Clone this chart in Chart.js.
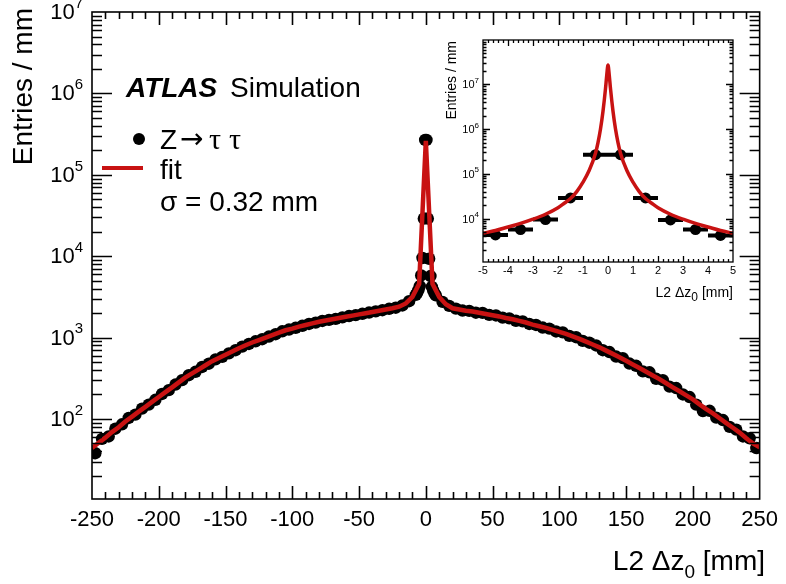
<!DOCTYPE html>
<html>
<head>
<meta charset="utf-8">
<script src="https://cdn.jsdelivr.net/npm/chart.js@4.4.1/dist/chart.umd.min.js"></script>
<style>
  html, body { margin: 0; padding: 0; background: #fff; }
  #wrap { position: relative; width: 786px; height: 584px; }
  #mainChart { position: absolute; left: 0; top: 0; }
  #insetChart { position: absolute; left: 425px; top: 28px; }
</style>
</head>
<body>
<div id="wrap">
  <canvas id="mainChart" width="786" height="584"></canvas>
  <canvas id="insetChart" width="320" height="280"></canvas>
</div>
<script>
// Histograma principal: centro del bin (mm) y entradas / mm
const mainX = [-247.5, -242.5, -237.5, -232.5, -227.5, -222.5, -217.5, -212.5, -207.5, -202.5,
  -197.5, -192.5, -187.5, -182.5, -177.5, -172.5, -167.5, -162.5, -157.5, -152.5,
  -147.5, -142.5, -137.5, -132.5, -127.5, -122.5, -117.5, -112.5, -107.5, -102.5,
  -97.5, -92.5, -87.5, -82.5, -77.5, -72.5, -67.5, -62.5, -57.5, -52.5,
  -47.5, -42.5, -37.5, -32.5, -27.5, -22.5, -17.5, -12.5, -7.5,
  -6.5, -5.5, -4.5, -3.5, -2.5, -1.5, -0.5, 0.5, 1.5, 2.5, 3.5, 4.5, 5.5, 6.5,
  7.5, 12.5, 17.5, 22.5, 27.5, 32.5, 37.5, 42.5, 47.5, 52.5,
  57.5, 62.5, 67.5, 72.5, 77.5, 82.5, 87.5, 92.5, 97.5, 102.5,
  107.5, 112.5, 117.5, 122.5, 127.5, 132.5, 137.5, 142.5, 147.5, 152.5,
  157.5, 162.5, 167.5, 172.5, 177.5, 182.5, 187.5, 192.5, 197.5, 202.5,
  207.5, 212.5, 217.5, 222.5, 227.5, 232.5, 237.5, 242.5, 247.5];
const mainY = [38, 57, 61, 76, 86, 103, 113, 134, 150, 172,
  203, 226, 265, 300, 345, 380, 436, 478, 540, 580,
  640, 700, 775, 835, 900, 955, 1030, 1100, 1195, 1255,
  1320, 1395, 1470, 1525, 1600, 1650, 1700, 1770, 1840, 1890,
  1960, 2030, 2100, 2170, 2260, 2330, 2480, 2800, 3350,
  3550, 3850, 4300, 5800, 9500, 29000, 268000, 268000, 29000, 9300, 5700, 4200, 3800, 3500,
  3300, 2750, 2450, 2270, 2150, 2130, 2020, 2010, 1900, 1870,
  1760, 1720, 1610, 1580, 1470, 1430, 1330, 1290, 1190, 1160,
  1050, 1010, 910, 865, 800, 700, 665, 585, 560, 480,
  450, 385, 375, 312, 300, 250, 240, 200, 186, 150,
  125, 126, 104, 97, 80, 74, 61, 58, 44];

// Curva del ajuste (muestreada cada 5 mm)
const fitX = [-250, -245, -240, -235, -230, -225, -220, -215, -210, -205,
  -200, -195, -190, -185, -180, -175, -170, -165, -160, -155,
  -150, -145, -140, -135, -130, -125, -120, -115, -110, -105,
  -100, -95, -90, -85, -80, -75, -70, -65, -60, -55,
  -50, -45, -40, -35, -30, -25, -20, -15, -10, -5, 0,
  5, 10, 15, 20, 25, 30, 35, 40, 45, 50,
  55, 60, 65, 70, 75, 80, 85, 90, 95, 100,
  105, 110, 115, 120, 125, 130, 135, 140, 145, 150,
  155, 160, 165, 170, 175, 180, 185, 190, 195, 200,
  205, 210, 215, 220, 225, 230, 235, 240, 245, 250];
const fitY = [44, 51, 59, 69, 79, 93, 107, 123, 141, 162,
  186, 214, 245, 282, 324, 363, 407, 457, 513, 562,
  617, 676, 741, 804, 871, 933, 1000, 1072, 1148, 1230,
  1288, 1365, 1429, 1496, 1567, 1622, 1679, 1738, 1799, 1862,
  1928, 1995, 2065, 2138, 2213, 2291, 2399, 2630, 3162, 4571, 262000,
  4571, 3162, 2570, 2291, 2213, 2138, 2089, 2018, 1950, 1884,
  1820, 1738, 1679, 1603, 1531, 1445, 1380, 1318, 1245, 1175,
  1109, 1035, 966, 891, 822, 759, 692, 631, 575, 519,
  468, 422, 380, 343, 309, 275, 245, 219, 195, 174,
  151, 132, 117, 102, 89, 78, 68, 58, 50, 45];

// Recuadro: zona central |L2 Δz0| < 5 mm
const insetX = [-4.5, -3.5, -2.5, -1.5, -0.5, 0.5, 1.5, 2.5, 3.5, 4.5];
const insetY = [4300, 5700, 9500, 29000, 268000, 268000, 29000, 9300, 5700, 4200];
const insetErrX = [0.5, 0.5, 0.5, 0.5, 0.5, 0.5, 0.5, 0.5, 0.5, 0.5];
const insetFitX = [-5, -4.5, -4, -3.5, -3, -2.5, -2, -1.75, -1.5, -1.25, -1, -0.75, -0.5, -0.4, -0.3, -0.2, -0.1, -0.05, 0,
  0.05, 0.1, 0.2, 0.3, 0.4, 0.5, 0.75, 1, 1.25, 1.5, 1.75, 2, 2.5, 3, 3.5, 4, 4.5, 5];
const insetFitY = [4700, 5400, 6500, 7800, 9700, 12500, 17500, 22000, 28000, 40000, 65000, 120000, 290000, 500000, 1000000, 2500000, 8000000, 16000000, 27000000,
  16000000, 8000000, 2500000, 1000000, 500000, 290000, 120000, 65000, 40000, 28000, 22000, 17500, 12500, 9700, 7800, 6500, 5400, 4700];

// Etiquetas de los ejes
const mainXTicks = [-250, -200, -150, -100, -50, 0, 50, 100, 150, 200, 250];
const mainYExp = [2, 3, 4, 5, 6, 7];
const insetXTicks = [-5, -4, -3, -2, -1, 0, 1, 2, 3, 4, 5];
const insetYExp = [4, 5, 6, 7];

const RED = '#c81212';
const FONT = '"Liberation Sans", Arial, Helvetica, sans-serif';
const SERIF = '"Liberation Serif", "Times New Roman", serif';

function toPoints(xs, ys) {
  return xs.map((x, i) => ({ x: x, y: ys[i] }));
}

// Marco con marcas hacia dentro en los cuatro lados (estilo ROOT)
function drawFrame(chart, s) {
  const ctx = chart.ctx;
  const a = chart.chartArea;
  const xs = chart.scales.x;
  const ys = chart.scales.y;
  ctx.save();
  ctx.strokeStyle = '#000';
  ctx.lineWidth = s.lw;
  ctx.beginPath();
  const n = Math.round((xs.max - xs.min) / s.xMinor);
  for (let i = 1; i < n; i++) {
    const v = xs.min + i * s.xMinor;
    const len = (i % s.xRatio === 0) ? s.xMajorLen : s.xMinorLen;
    const px = Math.round(xs.getPixelForValue(v)) + 0.5;
    ctx.moveTo(px, a.bottom); ctx.lineTo(px, a.bottom - len);
    ctx.moveTo(px, a.top); ctx.lineTo(px, a.top + len);
  }
  for (let d = Math.floor(Math.log10(ys.min)); d <= Math.ceil(Math.log10(ys.max)); d++) {
    for (let m = 1; m <= 9; m++) {
      const v = m * Math.pow(10, d);
      if (v <= ys.min || v >= ys.max) continue;
      const len = m === 1 ? s.yMajorLen : s.yMinorLen;
      const py = Math.round(ys.getPixelForValue(v)) + 0.5;
      ctx.moveTo(a.left, py); ctx.lineTo(a.left + len, py);
      ctx.moveTo(a.right, py); ctx.lineTo(a.right - len, py);
    }
  }
  ctx.stroke();
  ctx.strokeRect(a.left, a.top, a.right - a.left, a.bottom - a.top);
  ctx.restore();
}

// Etiqueta 10^n con exponente
function drawPower(ctx, exp, right, y, base, sup) {
  ctx.font = sup + 'px ' + FONT;
  const we = ctx.measureText(String(exp)).width;
  ctx.font = base + 'px ' + FONT;
  const wb = ctx.measureText('10').width;
  ctx.textAlign = 'left';
  ctx.textBaseline = 'middle';
  ctx.fillText('10', right - we - wb, y);
  ctx.font = sup + 'px ' + FONT;
  ctx.fillText(String(exp), right - we, y - base * 0.42);
}

// Texto tipo "L2 Δz0 [mm]" alineado a la derecha
function drawDzTitle(ctx, right, baseline, size, subSize, gap) {
  const parts = [
    { t: 'L2' + gap + 'Δz', f: size + 'px ' + FONT, dy: 0 },
    { t: '0', f: subSize + 'px ' + FONT, dy: size * 0.28 },
    { t: gap + '[mm]', f: size + 'px ' + FONT, dy: 0 }
  ];
  let total = 0;
  parts.forEach(p => { ctx.font = p.f; p.w = ctx.measureText(p.t).width; total += p.w; });
  let x = right - total;
  ctx.textAlign = 'left';
  ctx.textBaseline = 'alphabetic';
  parts.forEach(p => { ctx.font = p.f; ctx.fillText(p.t, x, baseline + p.dy); x += p.w; });
}

const mainDecor = {
  id: 'mainDecor',
  afterDraw(chart) {
    const ctx = chart.ctx;
    const ys = chart.scales.y;
    drawFrame(chart, { lw: 1.6, xMinor: 10, xRatio: 5, xMajorLen: 13, xMinorLen: 7, yMajorLen: 20, yMinorLen: 10 });
    ctx.save();
    ctx.fillStyle = '#000';
    mainYExp.forEach(e => drawPower(ctx, e, 83, ys.getPixelForValue(Math.pow(10, e)) + 1, 22, 15));

    // títulos de los ejes
    ctx.save();
    ctx.translate(24, 8);
    ctx.rotate(-Math.PI / 2);
    ctx.font = '28px ' + FONT;
    ctx.textAlign = 'right';
    ctx.textBaseline = 'middle';
    ctx.fillText('Entries / mm', 0, 0);
    ctx.restore();
    drawDzTitle(ctx, 765, 570, 28, 19, ' ');

    // ATLAS Simulation
    ctx.textAlign = 'left';
    ctx.textBaseline = 'alphabetic';
    ctx.font = 'italic bold 28px ' + FONT;
    ctx.fillText('ATLAS', 126, 97);
    ctx.font = '28px ' + FONT;
    ctx.fillText('Simulation', 230, 97);

    // leyenda
    ctx.beginPath();
    ctx.arc(139, 139, 6, 0, Math.PI * 2);
    ctx.fill();
    ctx.font = '28px ' + FONT;
    ctx.fillText('Z', 160, 149);
    ctx.font = '28px "DejaVu Sans", ' + FONT;
    ctx.fillText('→', 180, 148);
    ctx.font = '30px ' + SERIF;
    ctx.fillText('τ', 209, 149);
    ctx.fillText('τ', 229, 149);
    ctx.strokeStyle = RED;
    ctx.lineWidth = 4;
    ctx.beginPath();
    ctx.moveTo(102, 168);
    ctx.lineTo(143, 168);
    ctx.stroke();
    ctx.font = '28px ' + FONT;
    ctx.fillText('fit', 160, 179);
    ctx.fillText('σ = 0.32 mm', 160, 211);
    ctx.restore();
  }
};

const insetDecor = {
  id: 'insetDecor',
  beforeDatasetsDraw(chart) {
    // barras de error horizontales (anchura del bin)
    const ctx = chart.ctx;
    const xs = chart.scales.x;
    const ys = chart.scales.y;
    ctx.save();
    ctx.strokeStyle = '#000';
    ctx.lineWidth = 4;
    ctx.beginPath();
    insetX.forEach((x, i) => {
      const py = ys.getPixelForValue(insetY[i]);
      ctx.moveTo(xs.getPixelForValue(x - insetErrX[i]), py);
      ctx.lineTo(xs.getPixelForValue(x + insetErrX[i]), py);
    });
    ctx.stroke();
    ctx.restore();
  },
  afterDraw(chart) {
    const ctx = chart.ctx;
    const ys = chart.scales.y;
    drawFrame(chart, { lw: 1.3, xMinor: 0.2, xRatio: 5, xMajorLen: 6, xMinorLen: 3, yMajorLen: 7, yMinorLen: 3.5 });
    ctx.save();
    ctx.fillStyle = '#000';
    insetYExp.forEach(e => drawPower(ctx, e, 54, ys.getPixelForValue(Math.pow(10, e)) + 1, 11, 8));
    ctx.save();
    ctx.translate(27, 13);
    ctx.rotate(-Math.PI / 2);
    ctx.font = '14px ' + FONT;
    ctx.textAlign = 'right';
    ctx.textBaseline = 'middle';
    ctx.fillText('Entries / mm', 0, 0);
    ctx.restore();
    drawDzTitle(ctx, 308, 269, 14, 12, ' ');
    ctx.restore();
  }
};

// Gráfico principal
const mainCtx = document.getElementById('mainChart').getContext('2d');
new Chart(mainCtx, {
  type: 'scatter',
  data: {
    datasets: [{
      label: 'fit',
      data: toPoints(fitX, fitY),
      showLine: true,
      borderColor: RED,
      borderWidth: 4.5,
      pointRadius: 0,
      tension: 0,
      order: 0
    }, {
      label: 'Z → ττ',
      data: toPoints(mainX, mainY),
      backgroundColor: '#000',
      borderWidth: 0,
      pointRadius: 6.2,
      order: 1
    }]
  },
  options: {
    responsive: false,
    animation: false,
    layout: { padding: { top: 12, right: 20, left: 0, bottom: 0 } },
    plugins: { legend: { display: false }, tooltip: { enabled: false } },
    scales: {
      x: {
        type: 'linear',
        min: -250,
        max: 250,
        afterBuildTicks: s => { s.ticks = mainXTicks.map(v => ({ value: v })); },
        afterFit: s => { s.height = 85; },
        grid: { display: false, drawTicks: false },
        border: { display: false },
        ticks: { color: '#000', font: { family: FONT, size: 22 }, padding: 8, maxRotation: 0, autoSkip: false }
      },
      y: {
        type: 'logarithmic',
        min: 10.4,
        max: 1e7,
        afterFit: s => { s.width = 92; },
        grid: { display: false, drawTicks: false },
        border: { display: false },
        ticks: { display: false }
      }
    }
  },
  plugins: [mainDecor]
});

// Recuadro ampliado
const insetCtx = document.getElementById('insetChart').getContext('2d');
new Chart(insetCtx, {
  type: 'scatter',
  data: {
    datasets: [{
      label: 'fit',
      data: toPoints(insetFitX, insetFitY),
      showLine: true,
      borderColor: RED,
      borderWidth: 3.5,
      pointRadius: 0,
      cubicInterpolationMode: 'monotone',
      order: 0
    }, {
      label: 'Z → ττ',
      data: toPoints(insetX, insetY),
      backgroundColor: '#000',
      borderWidth: 0,
      pointRadius: 5.5,
      order: 1
    }]
  },
  options: {
    responsive: false,
    animation: false,
    layout: { padding: { top: 12, right: 12, left: 0, bottom: 0 } },
    plugins: { legend: { display: false }, tooltip: { enabled: false } },
    scales: {
      x: {
        type: 'linear',
        min: -5,
        max: 5,
        afterBuildTicks: s => { s.ticks = insetXTicks.map(v => ({ value: v })); },
        afterFit: s => { s.height = 46; },
        grid: { display: false, drawTicks: false },
        border: { display: false },
        ticks: { color: '#000', font: { family: FONT, size: 11 }, padding: 2, maxRotation: 0, autoSkip: false }
      },
      y: {
        type: 'logarithmic',
        min: 1070,
        max: 9.8e7,
        afterFit: s => { s.width = 58; },
        grid: { display: false, drawTicks: false },
        border: { display: false },
        ticks: { display: false }
      }
    }
  },
  plugins: [insetDecor]
});
</script>
</body>
</html>
